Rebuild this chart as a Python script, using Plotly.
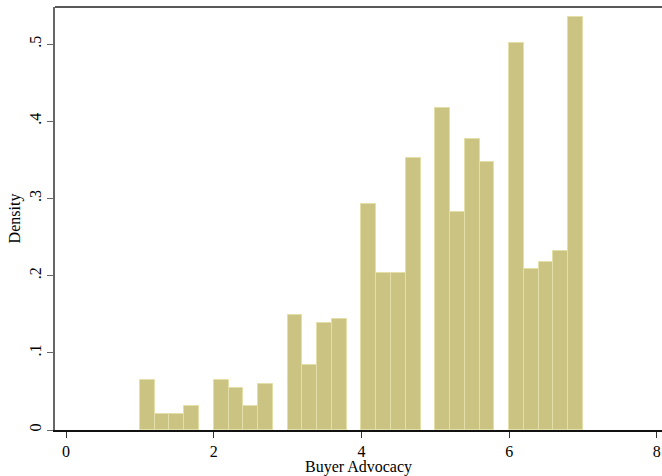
import plotly.graph_objects as go

# Histogram data (bin start, density), bin width 0.2
bin_starts = [1.0, 1.2, 1.4, 1.6, 1.8,
              2.0, 2.2, 2.4, 2.6, 2.8,
              3.0, 3.2, 3.4, 3.6, 3.8,
              4.0, 4.2, 4.4, 4.6, 4.8,
              5.0, 5.2, 5.4, 5.6, 5.8,
              6.0, 6.2, 6.4, 6.6, 6.8]
density = [0.065, 0.021, 0.021, 0.031, 0.0,
           0.065, 0.055, 0.031, 0.060, 0.0,
           0.149, 0.084, 0.139, 0.144, 0.0,
           0.293, 0.203, 0.203, 0.352, 0.0,
           0.417, 0.283, 0.377, 0.347, 0.0,
           0.501, 0.208, 0.218, 0.232, 0.535]
bin_width = 0.2

x_ticks = [0, 2, 4, 6, 8]
x_tick_labels = ["0", "2", "4", "6", "8"]
y_ticks = [0, 0.1, 0.2, 0.3, 0.4, 0.5]
y_tick_labels = ["0", ".1", ".2", ".3", ".4", ".5"]

xs = [s + bin_width / 2 for s, d in zip(bin_starts, density) if d > 0]
ys = [d for d in density if d > 0]

fig = go.Figure()
fig.add_trace(go.Bar(
    x=xs, y=ys, width=bin_width,
    marker=dict(color="#CBC382", line=dict(color="#E4DFA8", width=1)),
    showlegend=False,
))

font = dict(family="Liberation Serif, Times New Roman, serif", size=16, color="black")

fig.update_layout(
    width=662, height=476,
    margin=dict(l=55, r=0, t=7, b=46),
    paper_bgcolor="white", plot_bgcolor="white",
    bargap=0,
    font=font,
    xaxis=dict(
        range=[-0.15, 8.07],
        tickmode="array", tickvals=x_ticks, ticktext=x_tick_labels,
        ticks="outside", ticklen=6, tickcolor="#333", tickwidth=1,
        showline=True, linecolor="#111", linewidth=1.5,
        showgrid=False, zeroline=False, automargin=False,
        title=dict(text="Buyer Advocacy", standoff=0, font=font),
        tickfont=font,
    ),
    yaxis=dict(
        range=[0, 0.548],
        tickmode="array", tickvals=y_ticks, ticktext=y_tick_labels,
        tickangle=-90,
        ticks="outside", ticklen=6, tickcolor="#666", tickwidth=1,
        showline=True, linecolor="#666", linewidth=1.5,
        showgrid=False, zeroline=False, automargin=False,
        title=dict(text="Density", standoff=2, font=font),
        tickfont=font,
    ),
    shapes=[dict(type="line", xref="paper", yref="paper", x0=0, x1=1, y0=1, y1=1,
                 line=dict(color="#222", width=1.5))],
)

fig.write_html("out.html", config={"displayModeBar": False})

# remove default page margin so the figure sits at the window's top-left corner
with open("out.html", "r", encoding="utf-8") as f:
    html = f.read()
html = html.replace("<head>", "<head><style>html,body{margin:0;padding:0;overflow:hidden}</style>", 1)
with open("out.html", "w", encoding="utf-8") as f:
    f.write(html)
